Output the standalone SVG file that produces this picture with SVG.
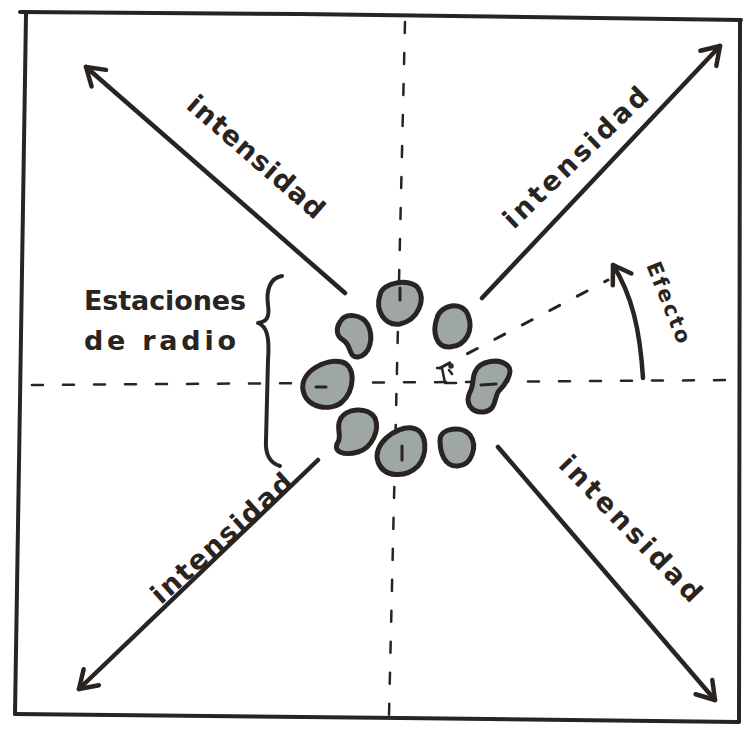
<svg xmlns="http://www.w3.org/2000/svg" width="743" height="730" viewBox="0 0 743 730">
<defs>
<style>
.ink{fill:none;stroke:#2a2420;stroke-linecap:round;stroke-linejoin:round}
.frame{stroke-width:4}
.arr{stroke-width:4.5}
.dash{stroke-width:2.5;stroke-dasharray:11 20}
.blob{fill:#9ea7a4;stroke:#2a2420;stroke-width:5;stroke-linejoin:round}
.lbl{font-family:"DejaVu Sans","Liberation Sans",sans-serif;fill:#2a2420;font-size:27px;font-weight:bold}
</style>
<marker id="head" viewBox="-20 -14 24 28" markerWidth="24" markerHeight="28" refX="0" refY="0" orient="auto" markerUnits="userSpaceOnUse">
<path d="M -17 -11 L 0 0 L -17 11" fill="none" stroke="#2a2420" stroke-width="4.5" stroke-linecap="round" stroke-linejoin="round"/>
</marker>
</defs>
<rect width="743" height="730" fill="#ffffff"/>
<g id="frame" class="ink frame">
<path d="M 20 12 L 300 14 L 741 20"/>
<path d="M 26 14 L 20 400 L 15 714"/>
<path d="M 15 714 L 400 718 L 738 722"/>
<path d="M 740 20 L 739 722"/>
</g>
<g id="axes" class="ink dash">
<path d="M 405 22 L 389 716"/>
<path d="M 32 385 L 738 380"/>
</g>
<g id="connectors" class="ink arr">
<path d="M 345 293 L 86 67" marker-end="url(#head)"/>
<path d="M 482 298 L 720 46" marker-end="url(#head)"/>
<path d="M 318 460 L 79 689" marker-end="url(#head)"/>
<path d="M 498 447 L 715 700" marker-end="url(#head)"/>
<path class="dash" d="M 440 368 L 608 280" style="stroke-width:3"/>
<path d="M 643 378 C 640 330 632 295 613 265" marker-end="url(#head)"/>
</g>
<g id="stations">
<path class="blob" d="M 380 295 C 382 282 410 278 418 288 C 426 300 418 320 400 324 C 384 326 375 310 380 295 Z"/>
<path class="blob" d="M 340 322 C 345 312 362 314 368 325 C 374 338 370 355 358 357 C 348 358 352 345 343 340 C 336 336 336 328 340 322 Z"/>
<path class="blob" d="M 437 318 C 440 305 462 300 468 315 C 474 330 466 346 450 347 C 436 348 432 332 437 318 Z"/>
<path class="blob" d="M 303 390 C 300 372 325 358 342 362 C 356 366 355 390 342 402 C 330 412 306 408 303 390 Z"/>
<path class="blob" d="M 475 372 C 480 360 500 358 508 366 C 514 372 505 385 498 392 C 494 400 496 410 484 412 C 470 413 465 402 470 392 C 474 385 472 378 475 372 Z"/>
<path class="blob" d="M 340 420 C 345 408 368 406 375 418 C 380 430 372 448 358 452 C 344 456 332 452 338 442 C 342 436 336 428 340 420 Z"/>
<path class="blob" d="M 378 462 C 372 445 395 426 412 428 C 428 430 428 455 418 466 C 406 478 384 478 378 462 Z"/>
<path class="blob" d="M 440 440 C 440 428 462 425 470 435 C 478 446 472 465 458 466 C 444 467 440 452 440 440 Z"/>
<g class="ink" style="stroke-width:3">
<path d="M 400 288 L 400 300"/>
<path d="M 316 387 L 326 387"/>
<path d="M 402 446 L 402 460"/>
<path d="M 481 385 L 496 384"/>
</g>
</g>
<g id="angle" class="ink" style="stroke-width:2.5">
<path d="M 437 368 L 442 368 L 445 383 L 456 383"/>
<path d="M 449 370 L 452 374"/>
<circle cx="451" cy="366" r="1.5"/>
</g>
<g id="label-nw"><text class="lbl" transform="translate(250,164) rotate(41)" text-anchor="middle" textLength="172" lengthAdjust="spacing">intensidad</text></g>
<g id="label-ne"><text class="lbl" transform="translate(582,164) rotate(-44)" text-anchor="middle" textLength="190" lengthAdjust="spacing">intensidad</text></g>
<g id="label-sw"><text class="lbl" transform="translate(228,545) rotate(-42)" text-anchor="middle" textLength="180" lengthAdjust="spacing">intensidad</text></g>
<g id="label-se"><text class="lbl" transform="translate(624,535) rotate(46)" text-anchor="middle" textLength="192" lengthAdjust="spacing">intensidad</text></g>
<g id="label-efecto"><text class="lbl" style="font-size:21px" transform="translate(662,305) rotate(68)" text-anchor="middle" textLength="86" lengthAdjust="spacing">Efecto</text></g>
<g id="label-stations">
<text class="lbl" x="84" y="310" textLength="162" lengthAdjust="spacing">Estaciones</text>
<text class="lbl" x="84" y="350" textLength="152" lengthAdjust="spacing">de radio</text>
<path class="ink" style="stroke-width:4" d="M 282 276 C 270 278 266 290 268 305 C 270 318 266 322 258 323 C 266 326 270 335 268 360 L 266 440 C 265 455 270 463 280 466"/>
</g>
</svg>
